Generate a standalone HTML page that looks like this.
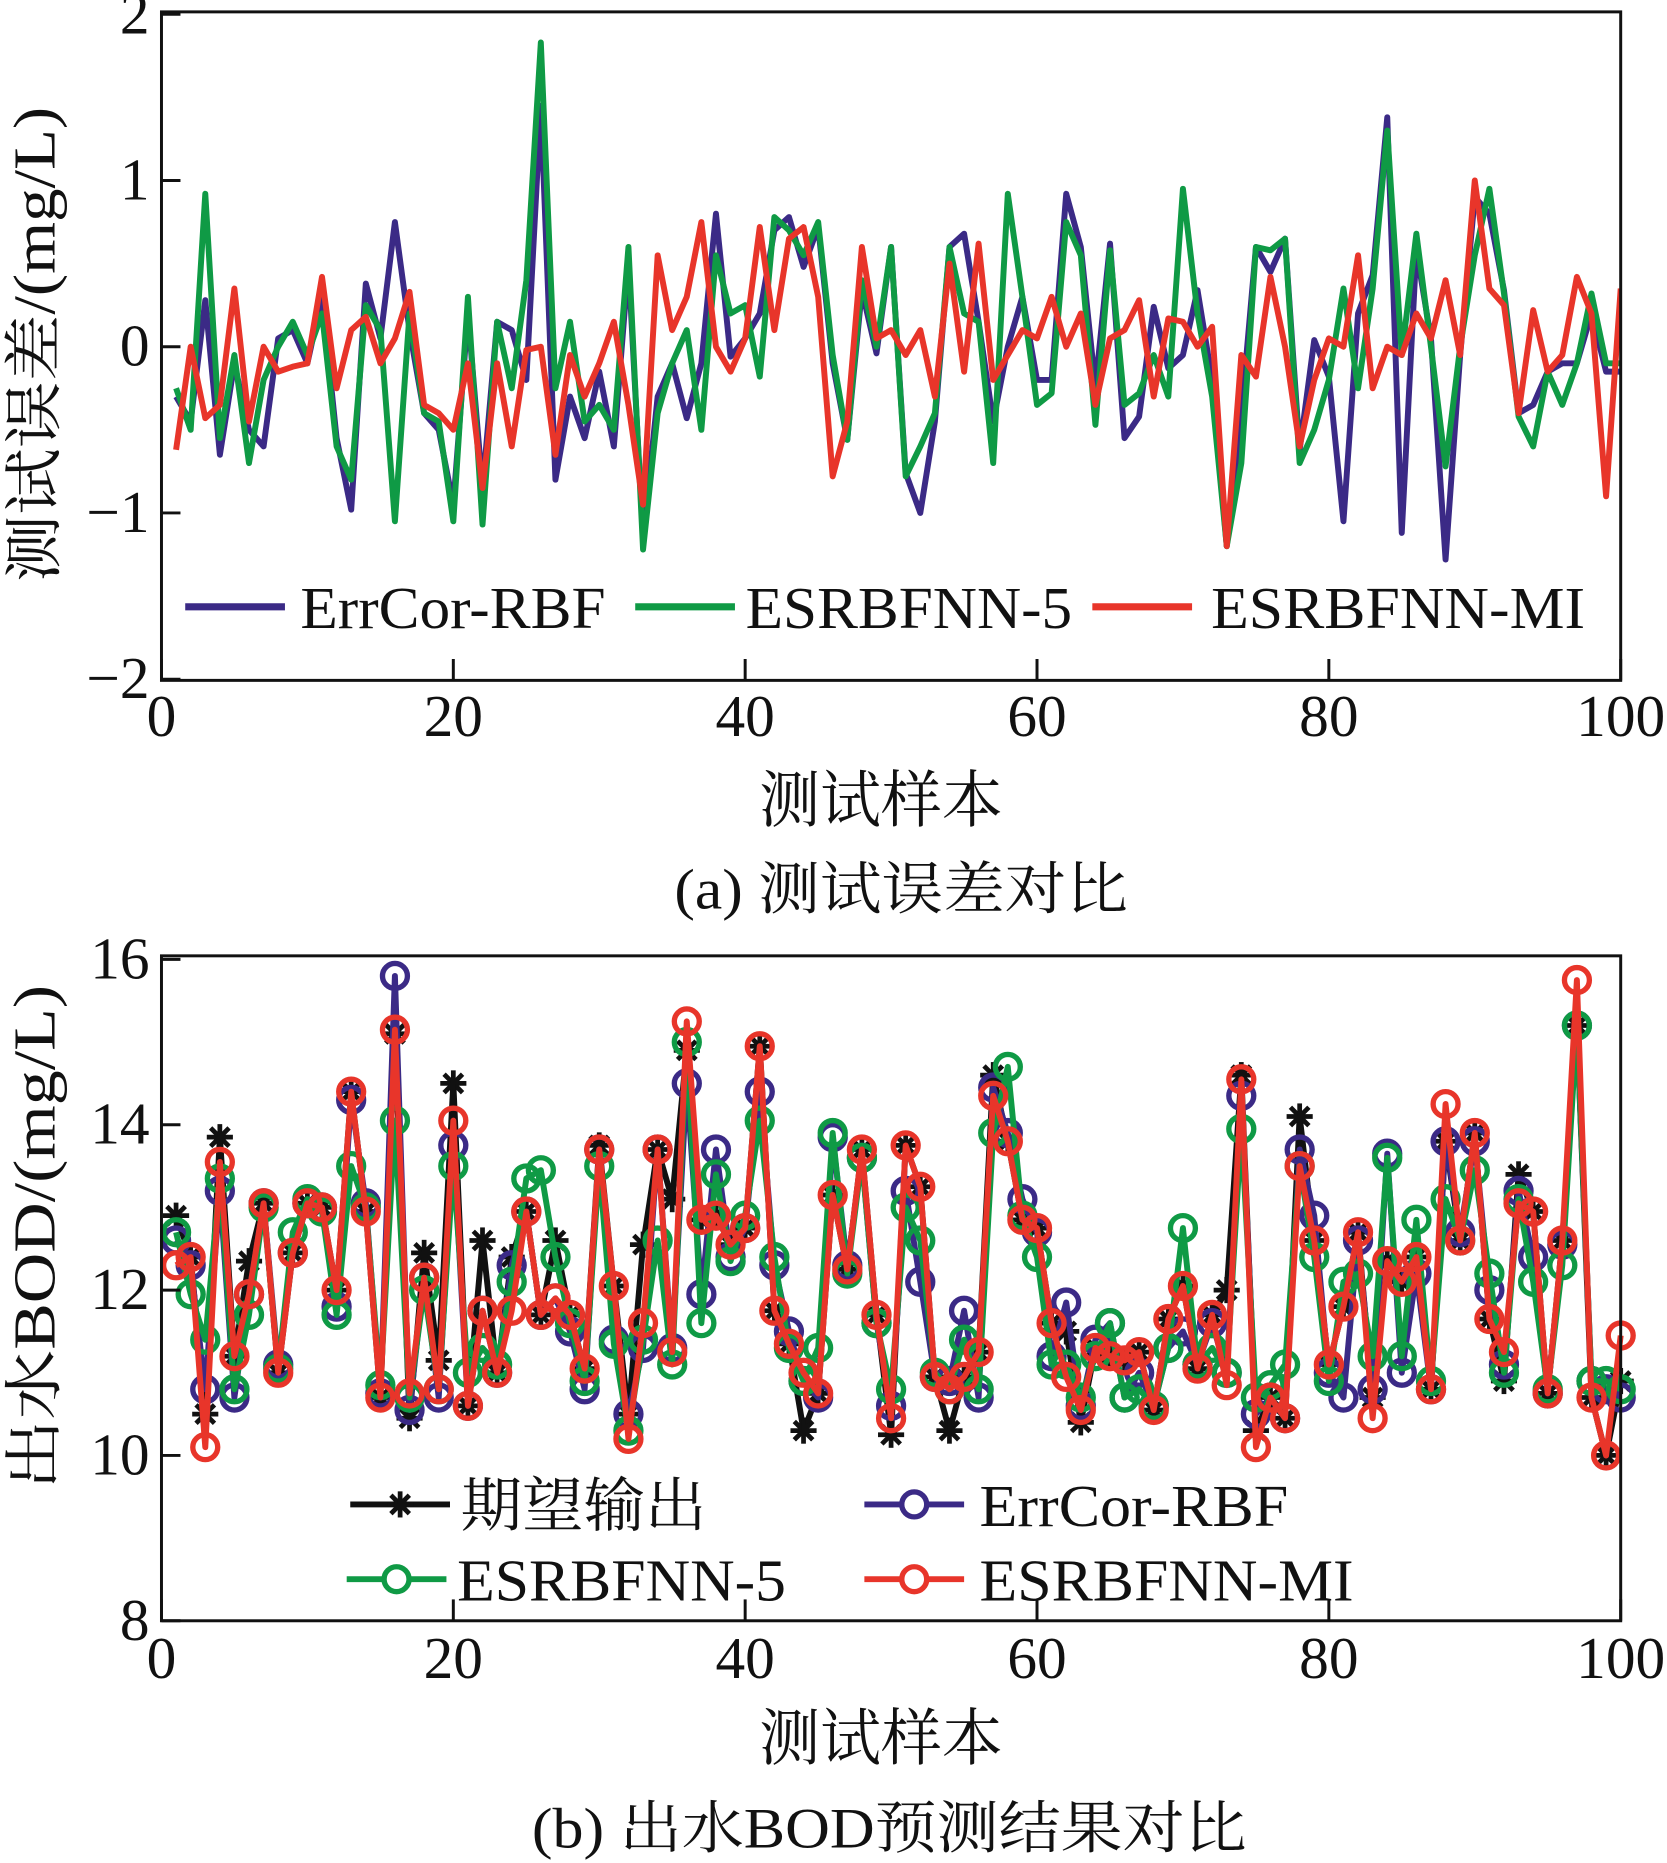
<!DOCTYPE html>
<html><head><meta charset="utf-8">
<style>
html,body{margin:0;padding:0;background:#fff;}
svg{display:block;}
text{font-family:"Liberation Serif","Noto Serif CJK SC",serif;fill:#111;}
</style></head>
<body>
<svg id="fig" width="1667" height="1863" viewBox="0 0 1404 1569" preserveAspectRatio="none" xmlns="http://www.w3.org/2000/svg"></svg>
<script>
// ---------- data: chart (a) test errors ----------
const samples = Array.from({length:100},(_,i)=>i+1);
const errXTicks = [0,20,40,60,80,100];
const errYTicks = [2,1,0,-1,-2];
const errYLabels = ["2","1","0","\u22121","\u22122"];
const errCorErr = [-0.3,-0.45,0.28,-0.65,-0.1,-0.5,-0.6,0.05,0.1,-0.1,0.3,-0.55,-0.98,0.38,0.05,0.75,0.1,-0.4,-0.5,-0.95,0.2,-0.85,0.15,0.1,-0.2,1.45,-0.8,-0.3,-0.55,-0.15,-0.6,0.5,-1.15,-0.3,-0.1,-0.43,-0.1,
0.8,-0.06,0.05,0.2,0.7,0.78,0.48,0.72,-0.1,-0.56,0.34,-0.04,0.6,-0.76,-1.0,-0.45,0.6,0.68,0.15,-0.45,0.0,0.3,-0.2,-0.2,0.92,0.6,-0.24,0.62,-0.55,-0.42,0.24,-0.13,-0.05,0.34,-0.2,-1.2,-0.4,0.6,0.45,0.65,-0.62,0.04,-0.18,-1.05,0.2,0.43,1.38,-1.12,0.58,0.05,-1.28,-0.05,0.9,0.8,0.34,-0.4,-0.35,-0.15,-0.1,-0.1,0.2,-0.15,-0.15];
const esr5Err = [-0.25,-0.5,0.92,-0.55,-0.05,-0.7,-0.2,0.0,0.15,-0.05,0.2,-0.6,-0.8,0.25,0.1,-1.05,0.2,-0.4,-0.45,-1.05,0.3,-1.07,0.15,-0.25,0.4,1.83,-0.25,0.15,-0.45,-0.35,-0.5,0.6,-1.22,-0.4,-0.1,0.1,-0.5,0.55,
0.2,0.25,-0.18,0.78,0.7,0.55,0.75,-0.05,-0.56,0.4,0.0,0.6,-0.78,-0.6,-0.4,0.6,0.2,0.15,-0.7,0.92,0.3,-0.35,-0.28,0.75,0.55,-0.47,0.58,-0.35,-0.28,-0.05,-0.3,0.95,0.2,-0.3,-1.2,-0.7,0.6,0.58,0.65,-0.7,-0.5,-0.2,0.35,-0.25,0.35,1.3,-0.05,0.68,0.0,-0.72,0.0,0.55,0.95,0.32,-0.42,-0.6,-0.15,-0.35,-0.1,0.32,-0.1,-0.1];
const esrMiErr = [-0.62,0.0,-0.43,-0.35,0.35,-0.45,0.0,-0.15,-0.12,-0.1,0.42,-0.25,0.1,0.18,-0.1,0.05,0.33,-0.35,-0.4,-0.5,-0.1,-0.85,-0.1,-0.6,-0.02,0.0,-0.65,-0.05,-0.3,-0.1,0.15,-0.35,-0.95,0.55,0.1,0.3,
0.75,0.0,-0.15,0.05,0.72,0.1,0.65,0.72,0.3,-0.78,-0.45,0.6,0.05,0.1,-0.05,0.1,-0.3,0.5,-0.15,0.62,-0.2,-0.05,0.1,0.05,0.3,0.0,0.2,-0.35,0.05,0.1,0.28,-0.3,0.17,0.15,0.0,0.12,-1.2,-0.05,-0.18,0.42,0.0,-0.6,-0.2,0.05,0.0,0.55,-0.25,0.0,-0.05,0.2,0.05,0.4,-0.05,1.0,0.35,0.25,-0.4,0.22,-0.15,-0.05,0.42,0.2,-0.9,0.35];
// ---------- data: chart (b) BOD predictions ----------
const bodXTicks = [0,20,40,60,80,100];
const bodYTicks = [16,14,12,10,8];
const expected = [12.9,12.4,10.5,13.85,11.2,12.35,13.05,11.0,12.45,13.05,13.0,12.0,14.4,12.95,10.7,15.1,10.45,12.45,11.15,14.5,10.6,12.6,11.0,12.4,12.95,11.7,12.6,11.7,11.05,13.75,12.05,10.5,12.55,13.7,13.1,14.9,12.85,12.9,12.55,12.75,14.95,11.75,11.35,10.3,10.75,13.15,12.25,13.7,11.7,10.25,13.75,13.25,10.95,10.3,10.95,11.25,14.6,13.8,12.85,12.75,11.6,11.5,10.4,11.3,11.2,11.15,11.25,10.55,11.65,12.05,11.05,11.7,12.0,14.6,10.3,10.7,10.45,14.1,12.6,11.1,11.8,12.7,10.7,12.35,12.1,12.4,10.8,13.8,12.6,13.9,11.65,10.9,13.4,12.95,10.75,12.6,15.2,10.7,10.0,10.9];
const errCorPred = [12.6,12.3,10.8,13.2,10.7,11.95,13.05,11.1,12.45,13.05,13.0,11.8,14.3,13.05,10.75,15.8,10.55,12.15,10.7,13.75,10.6,11.75,11.0,12.3,12.95,11.7,11.9,11.5,10.8,13.7,11.4,10.5,11.3,13.7,11.3,14.5,11.95,13.7,12.4,12.75,14.4,12.3,11.5,10.9,10.7,13.85,12.3,13.6,11.6,10.6,13.2,12.1,10.95,10.9,11.75,10.7,14.45,13.9,13.1,12.7,11.2,11.85,10.6,11.4,11.6,10.7,11.0,10.6,11.3,11.5,11.1,11.6,11.0,14.35,10.5,10.7,10.45,13.7,12.9,11.0,10.7,12.6,10.8,13.65,11.0,12.2,10.8,13.8,12.7,13.8,12.0,11.1,13.2,12.4,10.75,12.55,15.2,10.9,10.8,10.7];
const esr5Pred = [12.7,11.95,11.4,13.35,10.8,11.7,13.0,11.05,12.7,13.1,12.95,11.7,13.5,13.0,10.85,14.05,10.7,12.0,10.8,13.5,11.0,11.3,11.1,12.1,13.35,13.45,12.4,11.6,10.9,13.5,11.35,10.3,11.4,12.6,11.1,15.0,11.6,13.4,12.35,12.9,14.05,12.4,11.3,10.9,11.3,13.9,12.2,13.6,11.6,10.8,13.0,12.6,11.0,10.8,11.4,10.8,13.9,14.7,12.9,12.4,11.1,11.1,10.7,11.2,11.6,10.7,10.8,10.6,11.3,12.75,11.1,11.3,11.0,13.95,10.7,10.85,11.1,13.5,12.4,10.9,12.1,12.2,11.2,13.6,11.2,12.85,10.9,13.1,12.6,13.45,12.2,11.0,13.1,12.1,10.8,12.3,15.2,10.9,10.9,10.8];
const esrMiPred = [12.3,12.4,10.1,13.55,11.2,11.95,13.05,11.0,12.45,13.05,13.0,12.0,14.4,12.95,10.7,15.15,10.75,12.15,10.8,14.05,10.6,11.75,11.0,11.75,12.95,11.7,11.9,11.7,11.05,13.7,12.05,10.2,11.6,13.7,11.25,15.25,12.85,12.9,12.55,12.75,14.95,11.75,11.35,11.0,10.75,13.15,12.25,13.7,11.7,10.45,13.75,13.25,10.95,10.8,10.95,11.25,14.35,13.8,12.85,12.75,11.6,10.95,10.55,11.3,11.2,11.15,11.25,10.55,11.65,12.05,11.05,11.7,10.85,14.55,10.1,10.7,10.45,13.5,12.6,11.1,11.8,12.7,10.45,12.35,12.1,12.4,10.8,14.25,12.6,13.9,11.65,11.25,13.05,12.95,10.75,12.6,15.75,10.7,10.0,11.45];

const NS="http://www.w3.org/2000/svg";
const svg=document.getElementById('fig');
function el(tag,attrs,parent){const e=document.createElementNS(NS,tag);for(const k in attrs)e.setAttribute(k,attrs[k]);(parent||svg).appendChild(e);return e;}
function txt(s,attrs,parent){const e=el('text',attrs,parent);e.textContent=s;if(attrs.textLength)e.setAttribute('lengthAdjust','spacingAndGlyphs');return e;}

const X0=136,X1=1365;
const xs=v=>X0+(v-0)/(100-0)*(X1-X0);
const aTop=12,aBot=572;
const ya=v=>aTop+(2-v)/4*(aBot-aTop);
const bTop=808,bBot=1365;
const yb=v=>bTop+(16-v)/8*(bBot-bTop);

function path(vals,xf,yf){return vals.map((v,i)=>(i?'L':'M')+xf(samples[i]).toFixed(1)+' '+yf(v).toFixed(1)).join(' ');}

// ===== Chart A =====
const ga=el('g',{});


const seriesA=[[errCorErr,'#3b2a86','errcor-rbf-error-line'],[esr5Err,'#0f9a45','esrbfnn5-error-line'],[esrMiErr,'#e8352a','esrbfnn-mi-error-line']];
const clipA=el('clipPath',{id:'ca'},ga);el('rect',{x:X0,y:aTop-2,width:X1-X0,height:aBot-aTop+2},clipA);
seriesA.forEach(s=>{const p=el('path',{d:path(s[0],xs,ya),fill:'none',stroke:s[1],'stroke-width':5,'stroke-linejoin':'round','clip-path':'url(#ca)'},ga);

});
const frameA=el('rect',{x:X0,y:10,width:X1-X0,height:563,fill:'none',stroke:'#111','stroke-width':2.5},ga);


errXTicks.forEach(t=>{el('line',{x1:xs(t),x2:xs(t),y1:573,y2:555,stroke:'#111','stroke-width':2.5},ga);
const l=txt(String(t),{x:xs(t),y:620,'font-size':50,'text-anchor':'middle'},ga);

});
errYTicks.forEach((t,i)=>{el('line',{x1:X0,x2:X0+16,y1:ya(t),y2:ya(t),stroke:'#111','stroke-width':2.5},ga);
const l=txt(errYLabels[i],{x:126,y:ya(t)+16,'font-size':50,'text-anchor':'end'},ga);

});
const ytA=txt('测试误差/(mg/L)',{x:0,y:0,'font-size':50,'text-anchor':'middle',textLength:400,transform:'translate(46 290) rotate(-90)'},ga);


const xtA=txt('测试样本',{x:742,y:692,'font-size':52,'text-anchor':'middle',textLength:205},ga);


const capA=txt('(a) 测试误差对比',{x:759,y:765,'font-size':48,'text-anchor':'middle',textLength:382},ga);


const legA=[['ErrCor-RBF','#3b2a86',156,253,257],['ESRBFNN-5','#0f9a45',535,628,275],['ESRBFNN-MI','#e8352a',920,1020,315]];
legA.forEach(l=>{const g=el('g',{},ga);


el('line',{x1:l[2],x2:l[2]+84,y1:511,y2:511,stroke:l[1],'stroke-width':6},g);
txt(l[0],{x:l[3],y:529,'font-size':50,textLength:l[4]},g);});

// ===== Chart B =====
const gb=el('g',{});


const clipB=el('clipPath',{id:'cb'},gb);el('rect',{x:X0-20,y:bTop-20,width:X1-X0+40,height:bBot-bTop+20},clipB);
const seriesB=[[expected,'#111','expected-output-line','star'],[errCorPred,'#3b2a86','errcor-rbf-line','circle'],[esr5Pred,'#0f9a45','esrbfnn5-line','circle'],[esrMiPred,'#e8352a','esrbfnn-mi-line','circle']];
function star(g,cx,cy,c,r){for(let k=0;k<4;k++){const a=k*Math.PI/4;el('line',{x1:cx-r*Math.cos(a),y1:cy-r*Math.sin(a),x2:cx+r*Math.cos(a),y2:cy+r*Math.sin(a),stroke:c,'stroke-width':4},g);}}
seriesB.forEach(s=>{const g=el('g',{'clip-path':'url(#cb)'},gb);


el('path',{d:path(s[0],xs,yb),fill:'none',stroke:s[1],'stroke-width':5,'stroke-linejoin':'round'},g);
s[0].forEach((v,i)=>{const cx=xs(samples[i]),cy=yb(v);
if(s[3]==='star'){star(g,cx,cy,s[1],11);}
else{const c=el('circle',{cx:cx,cy:cy,r:10.5,fill:'none',stroke:s[1],'stroke-width':4.5},g);

}});});
const frameB=el('rect',{x:X0,y:805,width:X1-X0,height:560,fill:'none',stroke:'#111','stroke-width':2.5},gb);


bodXTicks.forEach(t=>{el('line',{x1:xs(t),x2:xs(t),y1:1365,y2:1347,stroke:'#111','stroke-width':2.5},gb);
const l=txt(String(t),{x:xs(t),y:1413,'font-size':50,'text-anchor':'middle'},gb);

});
bodYTicks.forEach(t=>{el('line',{x1:X0,x2:X0+16,y1:yb(t),y2:yb(t),stroke:'#111','stroke-width':2.5},gb);
const l=txt(String(t),{x:126,y:yb(t)+16,'font-size':50,'text-anchor':'end'},gb);

});
const ytB=txt('出水BOD/(mg/L)',{x:0,y:0,'font-size':50,'text-anchor':'middle',textLength:425,transform:'translate(46 1042) rotate(-90)'},gb);


const xtB=txt('测试样本',{x:742,y:1482,'font-size':52,'text-anchor':'middle',textLength:205},gb);


const capB=txt('(b) 出水BOD预测结果对比',{x:749,y:1556,'font-size':48,'text-anchor':'middle',textLength:602},gb);


const legB=[['期望输出','#111',295,1267,'star',388,207],['ErrCor-RBF','#3b2a86',728,1267,'circle',825,260],['ESRBFNN-5','#0f9a45',292,1330,'circle',385,277],['ESRBFNN-MI','#e8352a',728,1330,'circle',825,315]];
legB.forEach(l=>{const g=el('g',{},gb);


el('line',{x1:l[2],x2:l[2]+84,y1:l[3],y2:l[3],stroke:l[1],'stroke-width':5},g);
if(l[4]==='star')star(g,l[2]+42,l[3],l[1],11);else el('circle',{cx:l[2]+42,cy:l[3],r:10.5,fill:'#fff',stroke:l[1],'stroke-width':4.5},g);
txt(l[0],{x:l[5],y:l[3]+18,'font-size':50,textLength:l[6]},g);});
</script>
</body></html>
